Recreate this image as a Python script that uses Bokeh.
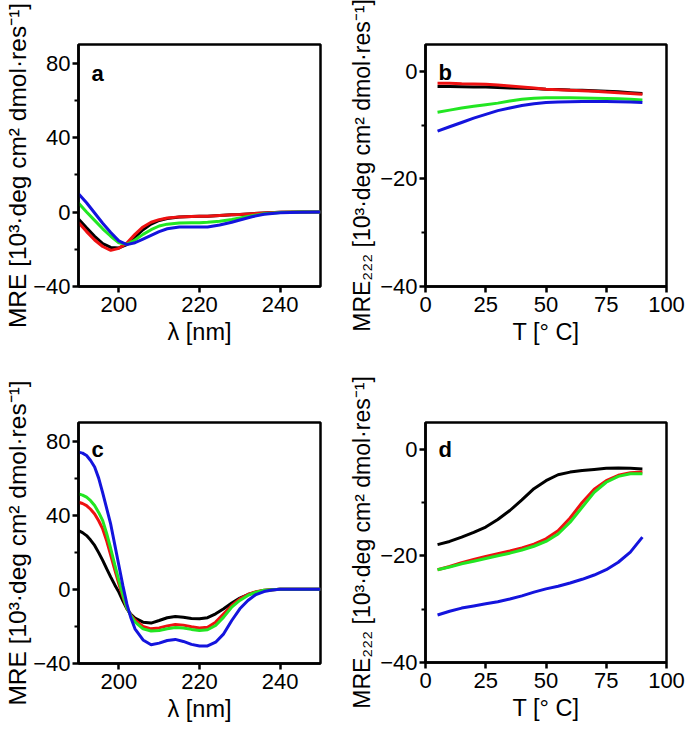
from bokeh.plotting import figure
from bokeh.layouts import row, column
from bokeh.models import FixedTicker, Label, Range1d, Title
from bokeh.embed import file_html
from bokeh.resources import INLINE

# ---------------- data ----------------
wl_a = [190, 192, 194, 196, 198, 200, 202, 204, 206, 208, 210, 212, 215, 218, 220, 222, 225, 228, 230, 233, 236, 240, 245, 250]
a_black = [-3.8, -8.5, -13, -17, -19, -19.3, -17.5, -13.5, -9.5, -6.5, -4.5, -3.5, -2.7, -2.4, -2.3, -2.2, -1.8, -1.5, -1.3, -0.9, -0.5, -0.1, 0, 0]
a_red = [-5.6, -10.5, -15, -18.5, -20.6, -19.5, -16.7, -12, -8, -5.5, -4.1, -3.2, -2.6, -2.4, -2.3, -2.2, -1.8, -1.5, -1.3, -0.9, -0.5, -0.1, 0, 0]
a_green = [4.8, 0, -4.5, -9, -13, -16.5, -17.3, -15, -12, -9.5, -7.5, -6.5, -5.9, -5.7, -5.7, -5.5, -5, -4, -3.2, -2, -0.9, -0.2, 0, 0]
a_blue = [9.8, 5, -0.5, -6, -11, -15.5, -17.5, -16.5, -14.5, -12.5, -10.5, -9, -8, -8, -8.1, -8, -7, -5.5, -4.3, -2.5, -1.2, -0.4, -0.1, 0]

wl_c = [190, 191, 192, 193, 194, 195, 196, 197, 198, 199, 200, 201, 202, 203, 204, 206, 208, 210, 212, 214, 216, 218, 220, 222, 224, 226, 228, 230, 232, 234, 236, 238, 240, 245, 250]
c_black = [31.7, 30.6, 29, 26.6, 23.7, 19.8, 15.6, 11, 6.6, 2.4, -1.5, -6.2, -10.5, -13.5, -15.5, -17.7, -18.2, -16.8, -15.3, -14.6, -15, -15.7, -15.9, -15.3, -13.2, -10.5, -7.4, -4.7, -2.8, -1.5, -0.6, -0.2, 0, 0, 0]
c_red = [47, 46.3, 45.2, 43.2, 40.7, 37, 32.6, 26, 18.3, 10.5, 3, -4, -10.2, -14, -16.5, -20, -21.3, -20.8, -19.7, -19, -19.3, -20.2, -20.8, -20.4, -17.7, -13.2, -8.7, -5.1, -2.8, -1.3, -0.5, -0.2, 0, 0, 0]
c_green = [51.5, 50.8, 49.7, 47.8, 45.2, 41.5, 37.1, 30, 21.9, 13.2, 4.8, -3, -10, -14.3, -17.5, -21.3, -22.5, -22.2, -21.3, -20.6, -20.8, -21.6, -22.2, -21.8, -19.5, -15, -9.6, -6, -3.3, -1.5, -0.5, -0.2, 0, 0, 0]
c_blue = [74, 73.5, 72.2, 69.5, 66, 60, 52, 43.5, 35, 24, 13, 2, -8, -15.5, -21.3, -27.3, -29.9, -29, -27.6, -27, -28.1, -29.7, -30.6, -30.5, -28.5, -24, -16.8, -10.5, -6, -2.8, -1.2, -0.4, 0, 0, 0]

temp = [5, 10, 15, 20, 25, 30, 35, 40, 45, 50, 55, 60, 65, 70, 75, 80, 85, 90]
b_black = [-2.8, -2.8, -2.85, -2.9, -2.9, -3.0, -3.1, -3.15, -3.2, -3.3, -3.35, -3.45, -3.5, -3.6, -3.7, -3.8, -3.95, -4.1]
b_red = [-2.2, -2.2, -2.3, -2.35, -2.4, -2.55, -2.7, -2.9, -3.1, -3.3, -3.4, -3.5, -3.6, -3.7, -3.85, -3.95, -4.1, -4.25]
b_green = [-7.6, -7.2, -6.8, -6.5, -6.2, -5.9, -5.5, -5.2, -5.0, -4.9, -4.9, -4.9, -4.95, -5.0, -5.05, -5.1, -5.2, -5.3]
b_blue = [-11.1, -10.3, -9.5, -8.7, -8.0, -7.3, -6.8, -6.35, -6.0, -5.8, -5.7, -5.65, -5.6, -5.6, -5.6, -5.65, -5.7, -5.8]

d_black = [-17.9, -17.3, -16.5, -15.6, -14.6, -13.2, -11.5, -9.5, -7.4, -5.9, -4.8, -4.3, -4.0, -3.8, -3.6, -3.55, -3.6, -3.7]
d_red = [-22.6, -22, -21.3, -20.7, -20.1, -19.6, -19.1, -18.5, -17.8, -16.8, -15.3, -12.9, -10.0, -7.5, -5.9, -4.9, -4.4, -4.3]
d_green = [-22.6, -22.1, -21.5, -21.0, -20.5, -20.0, -19.5, -18.9, -18.2, -17.3, -15.9, -13.7, -10.9, -8.1, -6.2, -5.1, -4.6, -4.6]
d_blue = [-31.1, -30.4, -29.8, -29.4, -29.0, -28.6, -28.1, -27.5, -26.8, -26.2, -25.7, -25.1, -24.4, -23.6, -22.6, -21.2, -19.3, -16.5]

wl_ticks = [200, 220, 240]
wl_yticks = [-40, 0, 40, 80]
wl_yminor = [-20, 20, 60]
t_ticks = [0, 25, 50, 75, 100]
t_yticks = [-40, -20, 0]
t_yminor = [-30, -10]

COLORS = ["#000000", "#ee1111", "#22e622", "#1414dd"]
FONT = "Liberation Sans"

LBL_WL = "MRE [10³·deg cm² dmol·res⁻¹]"
LBL_T = "MRE₂₂₂ [10³·deg cm² dmol·res⁻¹]"


def make(xr, yr, xticks, yticks, yminor, xlabel, ylabel, letter, fw, fh,
         bl, br, bt, bb, xs, ys, lab_off, lab_size, lab_standoff, let_dy):
    p = figure(frame_width=fw, frame_height=fh, output_backend="svg",
               toolbar_location=None, x_range=Range1d(*xr), y_range=Range1d(*yr),
               min_border_left=bl, min_border_right=br, min_border_top=bt,
               min_border_bottom=bb)
    p.grid.visible = False
    p.outline_line_color = "black"
    p.outline_line_width = 2.5
    p.outline_line_alpha = 1
    p.background_fill_color = "white"
    p.border_fill_color = "white"
    p.xaxis.ticker = FixedTicker(ticks=xticks, minor_ticks=[])
    p.yaxis.ticker = FixedTicker(ticks=yticks, minor_ticks=yminor)
    for ax in (p.xaxis[0], p.yaxis[0]):
        ax.axis_line_width = 2.5
        ax.axis_line_color = "black"
        ax.major_tick_line_width = 2.5
        ax.minor_tick_line_width = 2
        ax.major_tick_out = 6
        ax.major_tick_in = 0
        ax.minor_tick_out = 4
        ax.minor_tick_in = 0
        ax.major_label_text_font = FONT
        ax.major_label_text_font_size = "22px"
        ax.major_label_text_color = "black"
        ax.axis_label_text_font = FONT
        ax.axis_label_text_font_size = "23.5px"
        ax.axis_label_text_font_style = "normal"
        ax.axis_label_text_color = "black"
    p.xaxis.major_label_standoff = 4
    p.yaxis.major_label_standoff = 2
    p.xaxis.axis_label_standoff = 4
    p.xaxis.axis_label = xlabel
    for ys_, c in zip(ys, COLORS):
        p.line(xs, ys_, line_color=c, line_width=3)
    sx = (xr[1] - xr[0]) / fw
    sy = (yr[1] - yr[0]) / fh
    # panel letter
    p.add_layout(Label(x=xr[0] + 13 * sx, y=yr[1] - let_dy * sy, text=letter,
                       text_font=FONT, text_font_size="22px", text_font_style="bold",
                       text_color="black", text_baseline="alphabetic"))
    # rotated y-axis title in the left border
    p.add_layout(Title(text=ylabel, align="center", offset=lab_off, standoff=lab_standoff,
                       text_font=FONT, text_font_size=lab_size,
                       text_font_style="normal", text_color="black"), "left")
    return p


pa = make((190, 250), (-40, 90), wl_ticks, wl_yticks, wl_yminor, "λ [nm]", LBL_WL, "a",
          242, 242, 78, 20, 44, 79, wl_a, [a_black, a_red, a_green, a_blue], -9, "24.5px", 0, 29)
pb = make((0, 100), (-40, 5), t_ticks, t_yticks, t_yminor, "T [° C]", LBL_T, "b",
          241, 242, 85, 19, 44, 79, temp, [b_black, b_red, b_green, b_blue], -14, "23px", 6, 28)
pc = make((190, 250), (-40, 90), wl_ticks, wl_yticks, wl_yminor, "λ [nm]", LBL_WL, "c",
          242, 241, 78, 20, 57, 68, wl_c, [c_black, c_red, c_green, c_blue], -3, "24.5px", 0, 27)
pd = make((0, 100), (-40, 5), t_ticks, t_yticks, t_yminor, "T [° C]", LBL_T, "d",
          241, 240, 85, 19, 57, 69, temp, [d_black, d_red, d_green, d_blue], 0, "23px", 6, 27)

layout = column(row(pa, pb), row(pc, pd))
open("out.html", "w").write(file_html(layout, INLINE))
